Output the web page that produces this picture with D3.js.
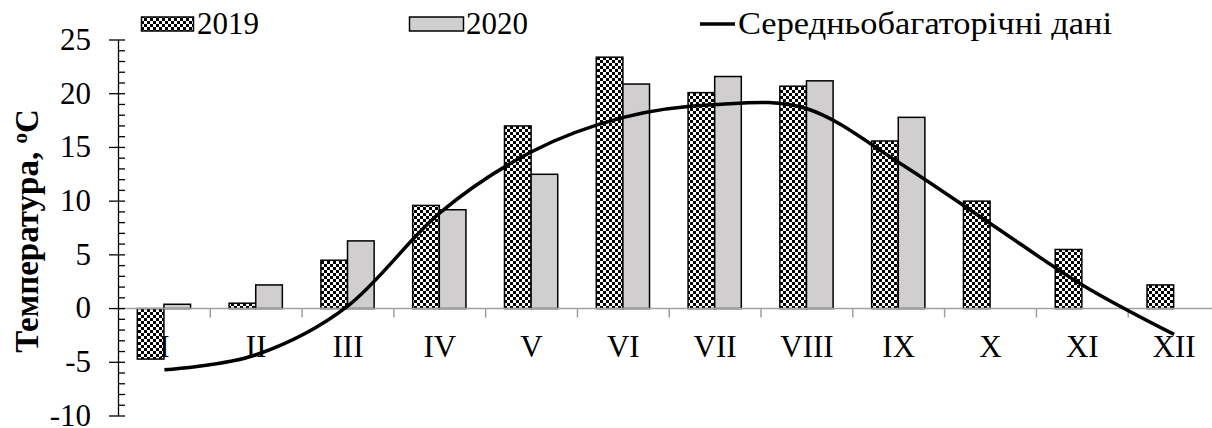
<!DOCTYPE html>
<html><head><meta charset="utf-8">
<script src="https://cdn.jsdelivr.net/npm/d3@7"></script>
<style>body{margin:0;background:#fff}svg{display:block}</style>
</head><body>
<script>
const months = ["I","II","III","IV","V","VI","VII","VIII","IX","X","XI","XII"];
const t2019 = [-4.7,0.5,4.5,9.6,17.0,23.4,20.1,20.7,15.6,10.0,5.5,2.2];
const t2020 = [0.4,2.2,6.3,9.2,12.5,20.9,21.6,21.2,17.8,null,null,null];
const tNorm = [-5.7,-4.3,0.25,8.9,14.6,17.8,19.0,18.6,13.6,7.9,2.2,-2.4];
const yTicks = [-10,-5,0,5,10,15,20,25];
const seriesNames = ["2019","2020","Середньобагаторічні дані"];

const W=1212,H=428;
const FF="'Liberation Serif', Tinos, 'Times New Roman', 'DejaVu Serif', serif";
const svg=d3.select("body").append("svg").attr("width",W).attr("height",H)
  .attr("font-family",FF);
const defs=svg.append("defs");
const pat=defs.append("pattern").attr("id","chk").attr("patternUnits","userSpaceOnUse").attr("width",6).attr("height",6);
pat.append("rect").attr("width",6).attr("height",6).attr("fill","#fff");
pat.append("rect").attr("width",3).attr("height",3).attr("fill","#000");
pat.append("rect").attr("x",3).attr("y",3).attr("width",3).attr("height",3).attr("fill","#000");

const x0=d3.scaleBand().domain(months).range([118.5,1220]).padding(0);
const bw=x0.bandwidth();
const x1=d3.scaleBand().domain(["2019","2020"]).range([bw*0.205,bw*0.785]).padding(0);
const y=d3.scaleLinear().domain([-10,25]).range([416,40]);
const FS=31;

// bars
const g=svg.append("g");
months.forEach((m,i)=>{
  [[t2019[i],"2019","url(#chk)"],[t2020[i],"2020","#d0cece"]].forEach(([v,k,f])=>{
    if(v==null) return;
    g.append("rect").attr("x",x0(m)+x1(k)).attr("width",x1.bandwidth())
     .attr("y",y(Math.max(0,v))).attr("height",Math.abs(y(v)-y(0)))
     .attr("fill",f).attr("stroke","#000").attr("stroke-width",1.5);
  });
});

// x axis (grey)
const xa=svg.append("g");
xa.append("line").attr("x1",118.5).attr("x2",1220).attr("y1",y(0)).attr("y2",y(0)).attr("stroke","#a0a0a0").attr("stroke-width",1.5);
months.forEach((m,i)=>{
  if(i>0) xa.append("line").attr("x1",x0(m)).attr("x2",x0(m)).attr("y1",y(0)).attr("y2",y(0)+9).attr("stroke","#a0a0a0").attr("stroke-width",1.5);
  xa.append("text").attr("x",x0(m)+bw/2).attr("y",357).attr("text-anchor","middle").attr("font-size",FS).text(m);
});

// y axis
const ya=svg.append("g");
ya.append("line").attr("x1",118.5).attr("x2",118.5).attr("y1",y(25)).attr("y2",y(-10)).attr("stroke","#000").attr("stroke-width",1.3);
d3.range(-10,26,1).forEach(v=>{
  const major=v%5===0;
  ya.append("line").attr("x1",major?109:118.5).attr("x2",125).attr("y1",y(v)).attr("y2",y(v)).attr("stroke","#000").attr("stroke-width",1.3);
});
yTicks.forEach(v=>{
  ya.append("text").attr("x",91).attr("y",y(v)).attr("dy","0.32em").attr("text-anchor","end").attr("font-size",FS).text(v);
});
const yt=svg.append("text").attr("transform","translate(38,231) rotate(-90)").attr("text-anchor","middle")
  .attr("font-size",33).attr("font-weight","bold");
yt.append("tspan").text("Температура, ");
yt.append("tspan").attr("font-size",21).attr("dy",-11).text("o");
yt.append("tspan").attr("dy",11).text("C");

// normal line
const line=d3.line().x((d,i)=>x0(months[i])+bw/2).y(d=>y(d)).curve(d3.curveCardinal.tension(0));
svg.append("path").datum(tNorm).attr("d",line).attr("fill","none").attr("stroke","#000").attr("stroke-width",3.5);

// legend
const lg=svg.append("g");
lg.append("rect").attr("x",141.5).attr("y",17).attr("width",52).attr("height",14).attr("fill","url(#chk)").attr("stroke","#000").attr("stroke-width",1.5);
lg.append("text").attr("x",197).attr("y",34).attr("font-size",FS).text(seriesNames[0]);
lg.append("rect").attr("x",409.5).attr("y",17).attr("width",54).attr("height",14).attr("fill","#d0cece").attr("stroke","#000").attr("stroke-width",1.5);
lg.append("text").attr("x",466).attr("y",34).attr("font-size",FS).text(seriesNames[1]);
lg.append("line").attr("x1",700).attr("x2",735).attr("y1",24).attr("y2",24).attr("stroke","#000").attr("stroke-width",3.5);
lg.append("text").attr("x",738).attr("y",34).attr("font-size",32)
  .attr("textLength",374).attr("lengthAdjust","spacingAndGlyphs").text(seriesNames[2]);
</script>
</body></html>
